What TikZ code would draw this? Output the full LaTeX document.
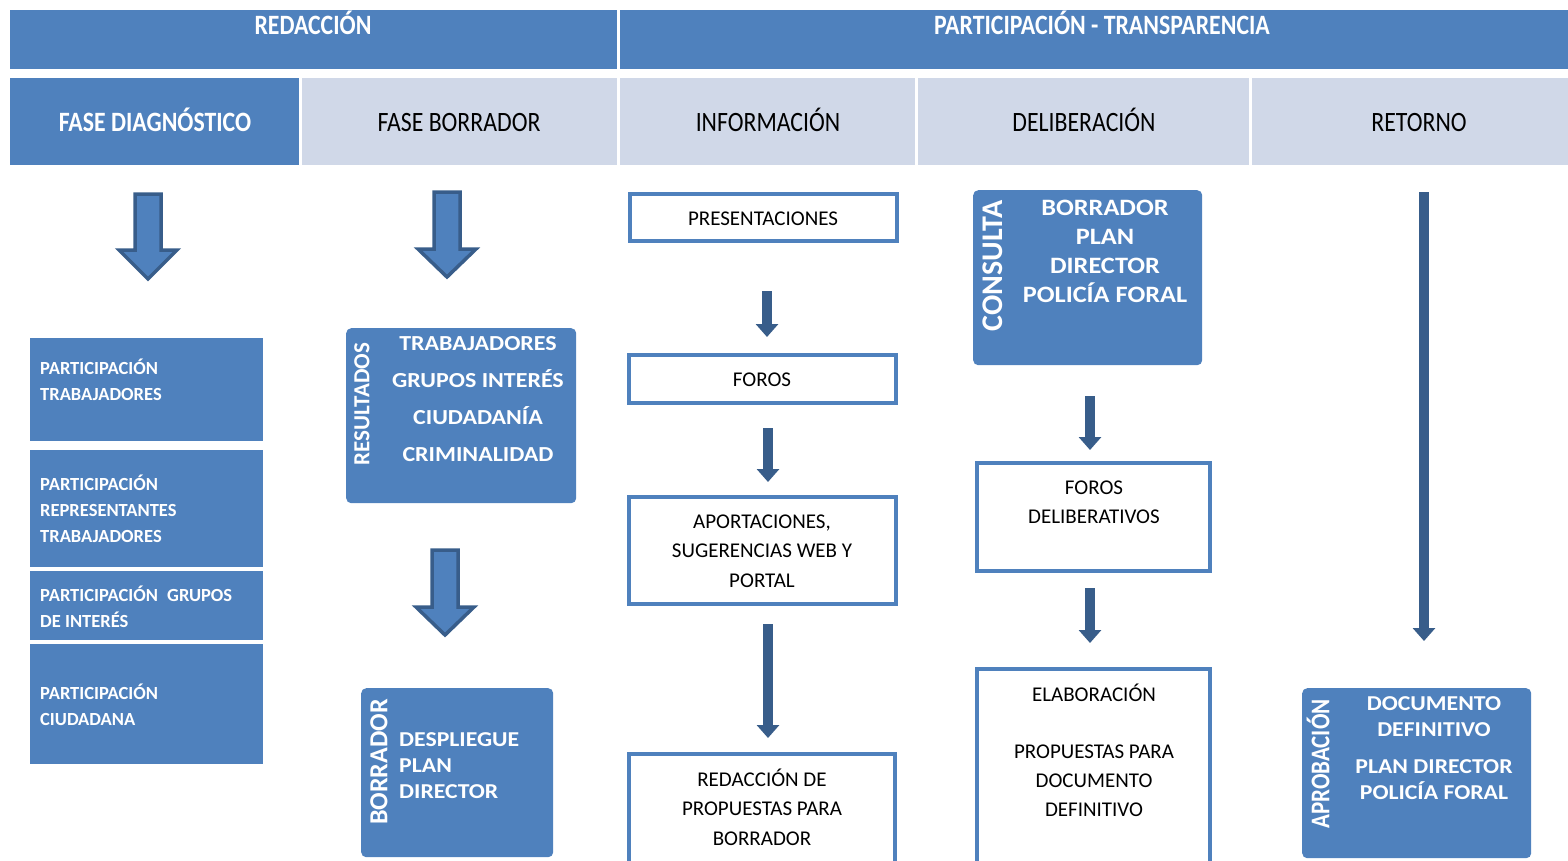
\documentclass[tikz,border=0pt]{standalone}
\usepackage{fontspec}
\setmainfont{Carlito}
\newfontfamily\condf{Carlito}[FakeStretch=0.85]
\newfontfamily\widef{Carlito}[FakeStretch=1.12]
\usetikzlibrary{arrows.meta}
\definecolor{accent}{HTML}{4F81BD}
\definecolor{accdark}{HTML}{385D8A}
\definecolor{lightbl}{HTML}{D0D8E8}
\newcommand{\mkbox}[6]{\node[#1, anchor=north west, minimum width={#5-#3}, minimum height={#6-#4}] (#2) at (#3,#4) {};}
\newcommand{\mkobox}[6]{\node[#1, anchor=north west, minimum width={#5-#3-4}, minimum height={#6-#4-4}] (#2) at (#3,#4) {};}
\begin{document}
\begin{tikzpicture}[x=1pt,y=-1pt,
  hdark/.style={fill=accent, draw=none, inner sep=0pt},
  hlight/.style={fill=lightbl, draw=none, inner sep=0pt},
  htxt/.style={font=\condf\fontsize{28}{30}\selectfont, anchor=base, inner sep=0pt},
  htxtw/.style={text=white, font=\condf\bfseries\fontsize{28}{30}\selectfont, anchor=base, inner sep=0pt},
  blockarr/.style={fill=accent, draw=accdark, line width=3.5pt, line join=miter},
  lbox/.style={fill=accent, draw=none, inner sep=0pt},
  ltxt/.style={text=white, anchor=west, align=left, inner sep=0pt, font=\bfseries\fontsize{18.5}{26}\selectfont},
  bbox/.style={fill=accent, draw=none, rounded corners=5pt, inner sep=0pt},
  vtxt/.style={text=white, rotate=90, inner sep=0pt},
  wtxt/.style={text=white, inner sep=0pt},
  obox/.style={draw=accent, line width=4pt, fill=white, inner sep=0pt},
  otxt/.style={inner sep=0pt, align=center, font=\fontsize{21}{29.5}\selectfont},
  thinarr/.style={draw=accdark, line width=9.5pt, -{Triangle[width=22pt,length=13pt]}}
]
\useasboundingbox (0,0) rectangle (1568,860);

% top band
\mkbox{hdark}{redac}{10}{10}{617}{69}
\mkbox{hdark}{partic}{620}{10}{1568}{69}
\node[htxtw] (redact) at (313,34) {REDACCIÓN};
\node[htxtw] (partict) at (1102,34) {PARTICIPACIÓN - TRANSPARENCIA};

% second row
\mkbox{hdark}{fdiag}{10}{78}{299}{165}
\mkbox{hlight}{fborr}{302}{78}{617}{165}
\mkbox{hlight}{finfo}{620}{78}{915}{165}
\mkbox{hlight}{fdelib}{918}{78}{1249}{165}
\mkbox{hlight}{fret}{1252}{78}{1568}{165}
\node[htxtw] (fdiagt) at (155,131) {FASE DIAGNÓSTICO};
\node[htxt] (fborrt) at (459,131) {FASE BORRADOR};
\node[htxt] (finfot) at (768,131) {INFORMACIÓN};
\node[htxt] (fdelibt) at (1084,131) {DELIBERACIÓN};
\node[htxt] (frett) at (1419,131) {RETORNO};

% block arrows
\draw[blockarr] (135,194) -- (161,194) -- (161,250) -- (177,250) -- (148,279) -- (119,250) -- (135,250) -- cycle;
\draw[blockarr] (434,192) -- (460,192) -- (460,249) -- (476,249) -- (447,277) -- (418,249) -- (434,249) -- cycle;
\draw[blockarr] (432,550) -- (458,550) -- (458,607) -- (474,607) -- (445,635) -- (416,607) -- (432,607) -- cycle;

% left column
\mkbox{lbox}{lb1}{30}{338}{263}{441}
\mkbox{lbox}{lb2}{30}{450}{263}{567}
\mkbox{lbox}{lb3}{30}{571}{263}{640}
\mkbox{lbox}{lb4}{30}{644}{263}{764}
\node[ltxt] (lb1t) at (40,380) {PARTICIPACIÓN\\TRABAJADORES};
\node[ltxt] (lb2t) at (40,509) {PARTICIPACIÓN\\REPRESENTANTES\\TRABAJADORES};
\node[ltxt] (lb3t) at (40,607) {PARTICIPACIÓN\hspace{5pt} GRUPOS\\DE INTERÉS};
\node[ltxt] (lb4t) at (40,705) {PARTICIPACIÓN\\CIUDADANA};

% resultados
\mkbox{bbox}{resbox}{346}{328}{576}{503}
\node[vtxt, font=\bfseries\fontsize{23}{26}\selectfont] (resv) at (362,404) {RESULTADOS};
\node[wtxt, align=center, font=\widef\bfseries\fontsize{21.4}{36.7}\selectfont] (rest) at (478,399) {TRABAJADORES\\GRUPOS INTERÉS\\CIUDADANÍA\\CRIMINALIDAD};

% borrador
\mkbox{bbox}{borbox}{361}{688}{553}{857}
\node[vtxt, font=\bfseries\fontsize{26}{28}\selectfont] (borv) at (379,762) {BORRADOR};
\node[wtxt, anchor=west, align=left, font=\widef\bfseries\fontsize{21.2}{26}\selectfont] (bort) at (399,766) {DESPLIEGUE\\PLAN\\DIRECTOR};

% informacion column
\mkobox{obox}{pres}{628}{192}{899}{243}
\node[otxt, anchor=base] (prest) at (763,225) {PRESENTACIONES};
\mkobox{obox}{foros}{627}{353}{898}{405}
\node[otxt, anchor=base] (forost) at (762,386) {FOROS};
\mkobox{obox}{aport}{627}{495}{898}{606}
\node[otxt] (aportt) at (762,551) {APORTACIONES,\\SUGERENCIAS WEB Y\\PORTAL};
\mkobox{obox}{redbox}{627}{752}{897}{900}
\node[otxt] (redboxt) at (762,807) {REDACCIÓN DE\\PROPUESTAS PARA\\BORRADOR};
\coordinate (i1s) at (767,291); \coordinate (i1e) at (767,337);
\coordinate (i2s) at (768,428); \coordinate (i2e) at (768,482);
\coordinate (i3s) at (768,624); \coordinate (i3e) at (768,738);
\draw[thinarr] (i1s) -- (i1e);
\draw[thinarr] (i2s) -- (i2e);
\draw[thinarr] (i3s) -- (i3e);

% deliberacion column
\mkbox{bbox}{conbox}{973}{190}{1202}{365}
\node[vtxt, font=\bfseries\fontsize{30}{31}\selectfont] (conv) at (993,266) {CONSULTA};
\node[wtxt, align=center, font=\widef\bfseries\fontsize{23.5}{29}\selectfont] (cont) at (1105,251.5) {BORRADOR\\PLAN\\DIRECTOR\\POLICÍA FORAL};
\mkobox{obox}{fdbox}{975}{461}{1212}{573}
\node[otxt, font=\fontsize{21}{29}\selectfont] (fdboxt) at (1094,502) {FOROS\\DELIBERATIVOS};
\mkobox{obox}{elbox}{975}{667}{1212}{900}
\node[otxt, font=\fontsize{21}{29}\selectfont] (elboxt) at (1094,750.5) {ELABORACIÓN\\[28pt]PROPUESTAS PARA\\DOCUMENTO\\DEFINITIVO};
\coordinate (d1s) at (1090,396); \coordinate (d1e) at (1090,450);
\coordinate (d2s) at (1090,588); \coordinate (d2e) at (1090,643);
\draw[thinarr] (d1s) -- (d1e);
\draw[thinarr] (d2s) -- (d2e);

% retorno column
\coordinate (r1s) at (1424,192); \coordinate (r1e) at (1424,641);
\draw[thinarr] (r1s) -- (r1e);
\mkbox{bbox}{aprbox}{1302}{688}{1531}{858}
\node[vtxt, font=\condf\bfseries\fontsize{27}{30}\selectfont] (aprv) at (1318,764) {APROBACIÓN};
\node[wtxt, align=center, font=\widef\bfseries\fontsize{21.2}{26}\selectfont] (aprt) at (1434,748.5) {DOCUMENTO\\DEFINITIVO\\[11pt]PLAN DIRECTOR\\POLICÍA FORAL};
\end{tikzpicture}
\end{document}
